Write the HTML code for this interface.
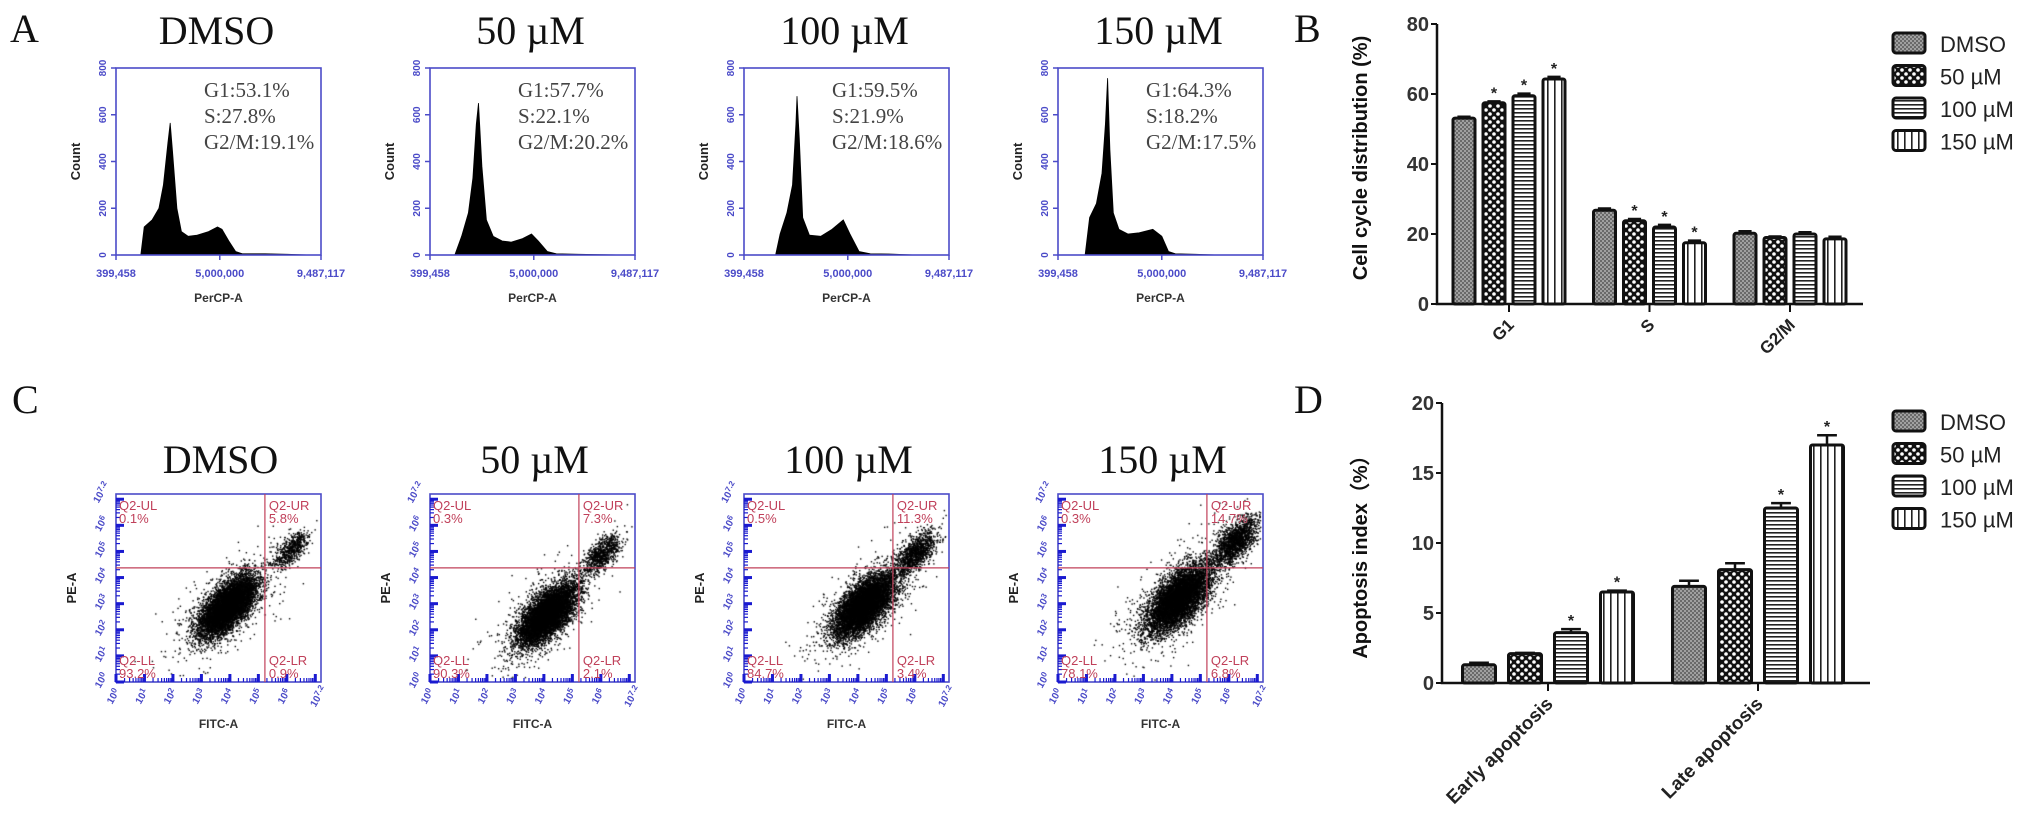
<!DOCTYPE html>
<html><head><meta charset="utf-8">
<style>
html,body{margin:0;padding:0;background:#fff;}
#wrap{position:relative;width:2031px;height:832px;overflow:hidden;background:#fff;}
canvas,svg{position:absolute;left:0;top:0;}
text{font-family:"Liberation Sans",Arial,sans-serif;}
.serif{font-family:"Liberation Serif","Times New Roman",serif;}
</style></head>
<body>
<div id="wrap">
<canvas id="cv" width="2031" height="832"></canvas>
<svg id="sv" width="2031" height="832" xmlns="http://www.w3.org/2000/svg">
<defs>
<pattern id="p0" width="4" height="4" patternUnits="userSpaceOnUse"><rect width="4" height="4" fill="#a0a0a0"/><rect width="2" height="2" fill="#6a6a6a"/><rect x="2" y="2" width="2" height="2" fill="#6a6a6a"/></pattern>
<pattern id="p1" width="8" height="8" patternUnits="userSpaceOnUse"><rect width="8" height="8" fill="#111"/><circle cx="2" cy="2" r="1.8" fill="#fff"/><circle cx="6" cy="6" r="1.8" fill="#fff"/></pattern>
<pattern id="p2" width="6" height="4" patternUnits="userSpaceOnUse"><rect width="6" height="4" fill="#fff"/><rect y="0" width="6" height="1.6" fill="#222"/></pattern>
<pattern id="p3" width="7" height="6" patternUnits="userSpaceOnUse"><rect width="7" height="6" fill="#fff"/><rect x="0" width="1.6" height="6" fill="#222"/></pattern>
</defs>
<g id="root"></g>
</svg>
</div>
<script>
// ---------- data ----------
const sampleNames = ['DMSO','50 µM','100 µM','150 µM'];
const histX0 = [1.5,1.65,2.0,2.3,2.5,2.7,2.8,2.9,3.1,3.3,3.6,4.0,4.5,4.9,5.1,5.4,5.7,6.0,7.0,8.0,9.0];
const histC0 = [0,120,150,200,300,480,565,450,200,100,80,85,100,120,110,60,15,5,5,3,0];
const histX1 = [1.5,1.8,2.1,2.3,2.45,2.55,2.7,2.9,3.2,3.6,4.0,4.5,4.9,5.2,5.6,6.0,7.0,9.0];
const histC1 = [0,80,180,330,560,650,380,150,80,60,55,70,90,60,15,5,3,0];
const histX2 = [1.8,2.0,2.3,2.55,2.7,2.75,2.85,3.0,3.3,3.8,4.3,4.8,5.1,5.5,6.0,7.0,8.0];
const histC2 = [0,90,180,300,560,680,500,160,85,80,110,150,90,15,5,4,0];
const histX3 = [1.6,1.8,2.1,2.35,2.5,2.6,2.7,2.85,3.1,3.5,4.0,4.6,5.0,5.3,5.6,6.5,7.5];
const histC3 = [0,160,220,350,560,757,450,180,110,90,95,110,80,15,5,3,0];
const histXs = [histX0,histX1,histX2,histX3];
const histCs = [histC0,histC1,histC2,histC3];
const g1Text = ['G1:53.1%','G1:57.7%','G1:59.5%','G1:64.3%'];
const sText  = ['S:27.8%','S:22.1%','S:21.9%','S:18.2%'];
const g2Text = ['G2/M:19.1%','G2/M:20.2%','G2/M:18.6%','G2/M:17.5%'];
const histYTicks = [0,200,400,600,800];
const clusterCX = [[3.9,6.15,3.8],[4.1,6.0,4.0],[4.2,6.0,4.2],[4.2,6.2,4.2]];
const clusterCY = [[2.9,5.1,2.8],[2.6,4.9,2.7],[2.95,4.95,3.0],[3.2,5.4,3.3]];
const clusterSD = [[0.5,0.32,1.0],[0.5,0.34,1.0],[0.52,0.36,1.0],[0.55,0.4,1.1]];
const clusterN  = [[7000,600,350],[7000,800,400],[7000,1200,420],[6500,1700,500]];
const qUL = ['0.1%','0.3%','0.5%','0.3%'];
const qUR = ['5.8%','7.3%','11.3%','14.7%'];
const qLL = ['93.2%','90.3%','84.7%','78.1%'];
const qLR = ['0.9%','2.1%','3.4%','6.8%'];
const bCats = ['G1','S','G2/M'];
const bDMSO = [53.1,26.8,20.2];
const b50   = [57.5,23.8,19.0];
const b100  = [59.5,22.0,20.0];
const b150  = [64.3,17.5,18.6];
const bErr  = [[0.4,0.5,0.6],[0.4,0.5,0.3],[0.6,0.6,0.5],[0.6,0.6,0.6]];
const bStar = [[0,0,0],[1,1,0],[1,1,0],[1,1,0]];
const bTicks = [0,20,40,60,80];
const dCats = ['Early apoptosis','Late apoptosis'];
const dDMSO = [1.3,6.9];
const d50   = [2.1,8.1];
const d100  = [3.6,12.5];
const d150  = [6.5,17.0];
const dErr  = [[0.15,0.4],[0.05,0.45],[0.25,0.35],[0.1,0.7]];
const dStar = [[0,0],[0,0],[1,1],[1,1]];
const dTicks = [0,5,10,15,20];
const legendNames = ['DMSO','50 µM','100 µM','150 µM'];
const fills = ['url(#p0)','url(#p1)','url(#p2)','url(#p3)'];

const NS='http://www.w3.org/2000/svg';
const root=document.getElementById('root');
function mk(tag,attrs,parent){const e=document.createElementNS(NS,tag);for(const k in attrs)e.setAttribute(k,attrs[k]);(parent||root).appendChild(e);return e;}
function txt(s,attrs,parent){const e=mk('text',attrs,parent);e.textContent=s;return e;}
const BLUE='#4b4bc8', RED='#c0405a';
const boxL=[116,430,744,1058], BW=205;

const letters=[['A',10,42],['B',1294,42],['C',12,413],['D',1294,413]];
letters.forEach(l=>{
  const e=txt(l[0],{x:l[1],y:l[2],'font-size':40,class:'serif',fill:'#111'});
  
  
});
for(let i=0;i<4;i++){
  const t1=txt(sampleNames[i],{x:boxL[i]+BW/2-2,y:44,'font-size':40,class:'serif','text-anchor':'middle',fill:'#111'});
  
  
  const t2=txt(sampleNames[i],{x:boxL[i]+BW/2+2,y:473,'font-size':40,class:'serif','text-anchor':'middle',fill:'#111'});
  
  
}

const hTop=68,hBot=255,xMin=0.399458,xMax=9.487117;
for(let i=0;i<4;i++){
  const L=boxL[i];
  const g=mk('g',{});
  
  
  const xs=v=>L+(v-xMin)/(xMax-xMin)*BW;
  const ys=c=>hBot-c/800*(hBot-hTop);
  let d='M'+xs(histXs[i][0])+','+hBot;
  histXs[i].forEach((x,k)=>{d+=' L'+xs(x).toFixed(1)+','+ys(histCs[i][k]).toFixed(1);});
  d+=' L'+xs(histXs[i][histXs[i].length-1])+','+hBot+'Z';
  const p=mk('path',{d:d,fill:'#000',stroke:'#000','stroke-width':0.8},g);
  
  
  const box=mk('rect',{x:L,y:hTop,width:BW,height:hBot-hTop,fill:'none',stroke:BLUE,'stroke-width':1.6},g);
  
  
  histYTicks.forEach(t=>{
    const y=ys(t);
    mk('line',{x1:L-5,x2:L,y1:y,y2:y,stroke:BLUE,'stroke-width':1.5},g);
    const tl=txt(String(t),{x:0,y:0,'font-size':10,'font-weight':'bold',fill:BLUE,'text-anchor':'middle',transform:`translate(${L-10},${y}) rotate(-90)`},g);
    
    
  });
  [[xMin,'399,458'],[5.0,'5,000,000'],[xMax,'9,487,117']].forEach(t=>{
    const x=xs(t[0]);
    mk('line',{x1:x,x2:x,y1:hBot,y2:hBot+5,stroke:BLUE,'stroke-width':1.5},g);
    const tl=txt(t[1],{x:x,y:277,'font-size':11,'font-weight':'bold',fill:BLUE,'text-anchor':'middle'},g);
    
    
  });
  const xl=txt('PerCP-A',{x:L+BW/2,y:302,'font-size':12,'font-weight':'bold',fill:'#333','text-anchor':'middle'},g);
  
  
  const yl=txt('Count',{x:0,y:0,'font-size':13,'font-weight':'bold',fill:'#222','text-anchor':'middle',transform:`translate(${L-36},${(hTop+hBot)/2}) rotate(-90)`},g);
  
  
  [g1Text[i],sText[i],g2Text[i]].forEach((s,k)=>{
    const t=txt(s,{x:L+88,y:97+k*26,'font-size':21,class:'serif',fill:'#444'},g);
    
    
  });
}

const sTop=494,sBot=682,vUnit=5.23,hUnit=4.37;
function rng(seed){return function(){seed|=0;seed=seed+0x6D2B79F5|0;let t=Math.imul(seed^seed>>>15,1|seed);t=t+Math.imul(t^t>>>7,61|t)^t;return((t^t>>>14)>>>0)/4294967296;};}
const ctx=document.getElementById('cv').getContext('2d');
ctx.fillStyle='#000';
for(let i=0;i<4;i++){
  const L=boxL[i];
  const sx=u=>L+u/7.2*BW, sy=u=>sBot-u/7.2*(sBot-sTop);
  const R=rng(17+i*31);
  const gauss=()=>{let u=R()||1e-9,v=R();return Math.sqrt(-2*Math.log(u))*Math.cos(2*Math.PI*v);};
  for(let c=0;c<3;c++){
    const cx=clusterCX[i][c],cy=clusterCY[i][c],sd=clusterSD[i][c],n=clusterN[i][c],r=0.65;
    for(let k=0;k<n;k++){
      const z1=gauss(),z2=gauss();
      const ux=cx+sd*z1, uy=cy+sd*1.15*(r*z1+Math.sqrt(1-r*r)*z2);
      if(ux<0.1||ux>7.1||uy<0.1||uy>7.1)continue;
      ctx.fillRect(sx(ux),sy(uy),1.4,1.4);
    }
  }
  const g=mk('g',{});
  
  
  const box=mk('rect',{x:L,y:sTop,width:BW,height:sBot-sTop,fill:'none',stroke:BLUE,'stroke-width':1.6},g);
  
  
  const vl=mk('line',{x1:sx(vUnit),x2:sx(vUnit),y1:sTop,y2:sBot,stroke:RED,'stroke-width':1.2},g);
  
  
  const hl=mk('line',{x1:L,x2:L+BW,y1:sy(hUnit),y2:sy(hUnit),stroke:RED,'stroke-width':1.2},g);
  
  
  for(let dec=0;dec<8;dec++){
    for(let m=1;m<10;m++){
      const u=dec+Math.log10(m); if(u>7.2)break;
      const len=m===1?8:4, w=m===1?3:1.2;
      mk('line',{x1:sx(u),x2:sx(u),y1:sBot,y2:sBot-len,stroke:'#1a1ad0','stroke-width':w},g);
      mk('line',{x1:L,x2:L+len,y1:sy(u),y2:sy(u),stroke:'#1a1ad0','stroke-width':w},g);
    }
  }
  const labs=['0','1','2','3','4','5','6','7.2'];
  labs.forEach((s,k)=>{
    const u=k<7?k:7.2;
    const a=txt('',{x:0,y:0,'font-size':10,'font-weight':'bold',fill:BLUE,'text-anchor':'middle',transform:`translate(${sx(u)},${sBot+16}) rotate(-60)`},g);
    
    
    a.innerHTML='10<tspan dy="-3" font-size="8">'+s+'</tspan>';
    const b=txt('',{x:0,y:0,'font-size':10,'font-weight':'bold',fill:BLUE,'text-anchor':'middle',transform:`translate(${L-12},${sy(u)}) rotate(-60)`},g);
    
    
    b.innerHTML='10<tspan dy="-3" font-size="8">'+s+'</tspan>';
  });
  const qs=[['Q2-UL',qUL[i],L+3,510],['Q2-UR',qUR[i],sx(vUnit)+4,510],['Q2-LL',qLL[i],L+3,665],['Q2-LR',qLR[i],sx(vUnit)+4,665]];
  qs.forEach(q=>{
    const a=txt(q[0],{x:q[2],y:q[3],'font-size':13,fill:RED},g);
    
    
    const b=txt(q[1],{x:q[2],y:q[3]+13,'font-size':13,fill:RED},g);
    
    
  });
  const xl=txt('FITC-A',{x:L+BW/2,y:728,'font-size':12,'font-weight':'bold',fill:'#333','text-anchor':'middle'},g);
  
  
  const yl=txt('PE-A',{x:0,y:0,'font-size':13,'font-weight':'bold',fill:'#222','text-anchor':'middle',transform:`translate(${L-40},${(sTop+sBot)/2}) rotate(-90)`},g);
  
  
}

function barChart(o){
  const g=mk('g',{});
  
  
  const y=v=>o.y0-v*o.k;
  const ax=mk('path',{d:`M${o.ax},${y(o.ticks[o.ticks.length-1])} L${o.ax},${o.y0} L${o.axEnd},${o.y0}`,fill:'none',stroke:'#111','stroke-width':2.5},g);
  
  
  o.ticks.forEach(t=>{
    mk('line',{x1:o.ax-6,x2:o.ax,y1:y(t),y2:y(t),stroke:'#111','stroke-width':2},g);
    const tl=txt(String(t),{x:o.ax-8,y:y(t)+7,'font-size':20,'font-weight':'bold',fill:'#333','text-anchor':'end'},g);
    
    
  });
  o.cats.forEach((c,ci)=>{
    const cx=o.c0+ci*o.gap;
    mk('line',{x1:cx,x2:cx,y1:o.y0,y2:o.y0+8,stroke:'#111','stroke-width':2},g);
    const tl=txt(c,{x:0,y:0,'font-size':o.catSize,'font-weight':'bold',fill:'#222','text-anchor':'end',transform:`translate(${cx+6},${o.y0+22}) rotate(-45)`},g);
    
    
    o.series.forEach((s,si)=>{
      const v=s[ci], bx=cx+(si-1.5)*o.pitch-o.bw/2;
      const e=o.err[si][ci];
      const eb=mk('path',{d:`M${bx+o.bw/2},${y(v)} L${bx+o.bw/2},${y(v+e)} M${bx+o.bw*0.2},${y(v+e)} L${bx+o.bw*0.8},${y(v+e)}`,stroke:'#111','stroke-width':2.5,fill:'none'},g);
      
      
      const r=mk('rect',{x:bx,y:y(v),width:o.bw,height:o.y0-y(v),fill:fills[si],stroke:'#111','stroke-width':3,rx:2},g);
      
      
      if(o.star[si][ci]){
        const st=txt('*',{x:bx+o.bw/2,y:y(v+e)-3,'font-size':16,'font-weight':'bold',fill:'#222','text-anchor':'middle'},g);
        
        
      }
    });
  });
  const tt=txt(o.title,{x:0,y:0,'font-size':o.titleSize,'font-weight':'bold',fill:'#111','text-anchor':'middle',transform:`translate(${o.tx},${o.ty}) rotate(-90)`},g);
  
  
  legendNames.forEach((n,i)=>{
    const ly=o.legY+i*32.5;
    const lr=mk('rect',{x:1893,y:ly-11,width:32,height:20,fill:fills[i],stroke:'#111','stroke-width':3,rx:3},g);
    
    
    const lt=txt(n,{x:1940,y:ly+8,'font-size':22,fill:'#222'},g);
    
    
  });
}
barChart({name:'cell-cycle-chart',ax:1437,axEnd:1863,y0:304,k:3.5,ticks:bTicks,cats:bCats,c0:1509,gap:140.5,pitch:30,bw:22,
  series:[bDMSO,b50,b100,b150],err:bErr,star:bStar,title:'Cell cycle distribution (%)',titleSize:20,tx:1367,ty:158,legY:44,catSize:17});
barChart({name:'apoptosis-chart',ax:1442,axEnd:1870,y0:683,k:14,ticks:dTicks,cats:dCats,c0:1548,gap:210,pitch:46,bw:33,
  series:[dDMSO,d50,d100,d150],err:dErr,star:dStar,title:'Apoptosis index（%）',titleSize:20,tx:1367,ty:552,legY:422,catSize:19});
</script>
</body></html>
